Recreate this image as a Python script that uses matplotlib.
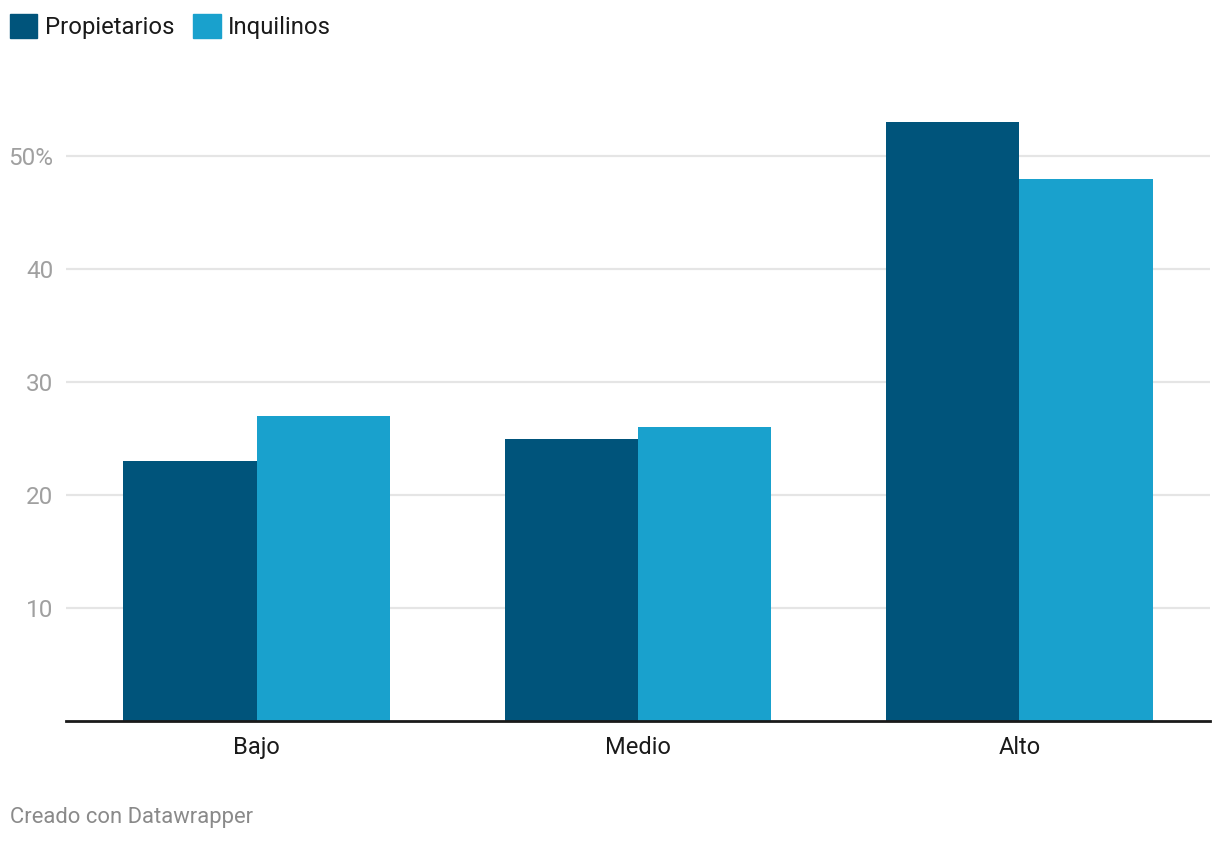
import matplotlib.pyplot as plt
from matplotlib.patches import Patch
import numpy as np

categorias = ['Bajo', 'Medio', 'Alto']
propietarios = [23, 25, 53]
inquilinos = [27, 26, 48]
ticks_y = [10, 20, 30, 40, 50]
ticks_y_labels = ['10', '20', '30', '40', '50%']

plt.rcParams['font.family'] = ['Roboto', 'DejaVu Sans']

fig = plt.figure(figsize=(12.2, 8.44), dpi=100)
ax = fig.add_axes([66 / 1220, 123 / 844, 1144 / 1220, (721 - 99.5) / 844])

x = np.arange(len(categorias))
w = 0.35
ax.bar(x - w / 2, propietarios, w, color='#00547b', zorder=3)
ax.bar(x + w / 2, inquilinos, w, color='#19a1cd', zorder=3)

ax.set_xlim(-0.5, 2.5)
ax.set_ylim(0, 55)
ax.set_yticks(ticks_y)
ax.set_yticklabels(ticks_y_labels)
ax.set_xticks(x)
ax.set_xticklabels(categorias)
ax.grid(axis='y', color='#e5e5e5', linewidth=1.6, zorder=0)
for s in ['top', 'right', 'left']:
    ax.spines[s].set_visible(False)
ax.spines['bottom'].set_color('#1a1a1a')
ax.spines['bottom'].set_linewidth(2)
ax.spines['bottom'].set_zorder(4)
ax.tick_params(axis='y', length=0, pad=9, labelsize=17.5, labelcolor='#a0a0a0')
ax.tick_params(axis='x', length=0, pad=10.5, labelsize=17, labelcolor='#1a1a1a')

handles = [Patch(color='#00547b', label='Propietarios'),
           Patch(color='#19a1cd', label='Inquilinos')]
fig.legend(handles=handles, loc='upper left', bbox_to_anchor=(-2 / 1220, 1 - 2 / 844),
           ncol=2, frameon=False, fontsize=17.2, handlelength=1.15, handleheight=1.15,
           handletextpad=0.3, columnspacing=0.8, borderpad=0, labelcolor='#1a1a1a')

fig.text(10 / 1220, 1 - 818 / 844, 'Creado con Datawrapper', fontsize=15.8,
         color='#8a8a8a', va='center', ha='left')

fig.savefig('out.png', dpi=100)
